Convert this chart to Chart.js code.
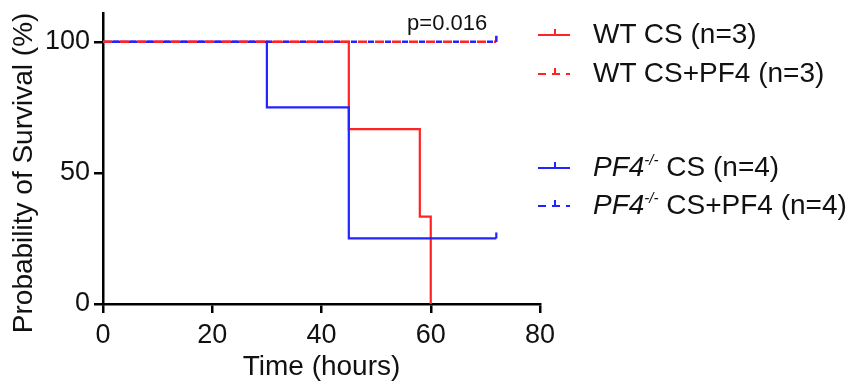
<!DOCTYPE html>
<html>
<head>
<meta charset="utf-8">
<script src="https://cdn.jsdelivr.net/npm/chart.js@4"></script>
<style>
  html, body { margin: 0; padding: 0; background: #fff; }
  #wrap { position: relative; width: 849px; height: 381px; overflow: hidden; }
  #c { position: absolute; left: 0; top: 0; }
  .lg { position: absolute; left: 537px; height: 32px; line-height: 32px; white-space: nowrap;
        font-family: "Liberation Sans", Arial, sans-serif; font-size: 28px; color: #111; }
  .lg svg { position: absolute; left: 0; top: 9px; }
  .lg span.t { position: absolute; left: 56px; top: 0; }
  .lg i sup { font-size: 15px; vertical-align: 0; position: relative; top: -11px; }
</style>
</head>
<body>
<div id="wrap">
  <canvas id="c" width="849" height="381"></canvas>
</div>
<script>
// ---- data ----
const wtCsTime   = [0, 45, 58, 60];
const wtCsSurv   = [100, 66.67, 33.33, 0];
const wtPf4Time  = [0, 72];
const wtPf4Surv  = [100, 100];
const koCsTime   = [0, 30, 45, 72];
const koCsSurv   = [100, 75, 25, 25];
const koPf4Time  = [0, 72];
const koPf4Surv  = [100, 100];
const xTicks = [0, 20, 40, 60, 80];
const yTicks = [0, 50, 100];
const seriesNames = ["WT CS (n=3)", "WT CS+PF4 (n=3)", "PF4-/- CS (n=4)", "PF4-/- CS+PF4 (n=4)"];
const pValueText = "p=0.016";
const xTitle = "Time (hours)";
const yTitle = "Probability of Survival (%)";

const RED = "rgb(255,35,35)";
const BLUE = "rgb(35,35,255)";
const FONT = "'Liberation Sans', Arial, sans-serif";

function pts(t, s) { return t.map((x, i) => ({ x: x, y: s[i] })); }
function censorRadius(censored) {
  return ctx => (censored && ctx.dataIndex === ctx.dataset.data.length - 1) ? 6 : 0;
}

function ds(label, t, s, color, dash, censored, order, dashOffset) {
  return {
    label: label,
    data: pts(t, s),
    borderColor: color,
    backgroundColor: color,
    borderWidth: dash ? 2.5 : 2.2,
    borderDash: dash || [],
    borderDashOffset: dashOffset || 0,
    stepped: 'before',
    fill: false,
    pointStyle: 'dash',
    rotation: -90,
    pointRadius: censorRadius(censored),
    pointHoverRadius: 0,
    pointBorderColor: color,
    pointBorderWidth: 2.2,
    order: order,
    clip: false
  };
}

const labelPlugin = {
  id: 'labels',
  afterDraw(chart) {
    const c = chart.ctx;
    const xs = chart.scales.x, ys = chart.scales.y;
    c.save();
    c.fillStyle = '#111';
    c.font = "28px " + FONT;
    c.textAlign = 'center';
    c.textBaseline = 'middle';
    c.translate(24, ys.getPixelForValue(50));
    c.rotate(-Math.PI / 2);
    c.fillText(yTitle, 0, 0);
    c.restore();
    c.save();
    c.fillStyle = '#111';
    c.font = "22px " + FONT;
    c.textAlign = 'center';
    c.textBaseline = 'alphabetic';
    c.fillText(pValueText, xs.getPixelForValue(63), 30);
    c.restore();
  }
};

function noPad(s) { s.paddingTop = 0; s.paddingBottom = 0; s.paddingLeft = 0; s.paddingRight = 0; }

new Chart(document.getElementById('c'), {
  type: 'line',
  data: {
    datasets: [
      ds(seriesNames[0], wtCsTime, wtCsSurv, RED, null, false, 4),
      ds(seriesNames[2], koCsTime, koCsSurv, BLUE, null, true, 3),
      ds(seriesNames[1], wtPf4Time, wtPf4Surv, RED, [9, 8], true, 2, 0),
      ds(seriesNames[3], koPf4Time, koPf4Surv, BLUE, [6, 11], true, 1, 7)
    ]
  },
  options: {
    responsive: false,
    animation: false,
    devicePixelRatio: 1,
    layout: { padding: { left: 0, top: 13, right: 309, bottom: 0 } },
    plugins: { legend: { display: false }, tooltip: { enabled: false } },
    events: [],
    scales: {
      x: {
        type: 'linear', min: 0, max: 80,
        afterBuildTicks: s => { s.ticks = xTicks.map(v => ({ value: v })); },
        afterFit: s => { s.height = 77; noPad(s); },
        border: { display: true, color: '#000', width: 2.5 },
        grid: { display: true, drawOnChartArea: false, drawTicks: true, tickLength: 9, color: '#000', lineWidth: 2.5 },
        ticks: { color: '#111', font: { family: FONT, size: 27 }, padding: 6, maxRotation: 0 },
        title: { display: true, text: xTitle, color: '#111', font: { family: FONT, size: 28, lineHeight: 1.0 }, padding: { top: 0, bottom: 0 } }
      },
      y: {
        type: 'linear', min: 0, max: 111,
        afterBuildTicks: s => { s.ticks = yTicks.map(v => ({ value: v })); },
        afterFit: s => { s.width = 103; noPad(s); },
        border: { display: true, color: '#000', width: 2.5 },
        grid: { display: true, drawOnChartArea: false, drawTicks: true, tickLength: 9, color: '#000', lineWidth: 2.5 },
        ticks: { color: '#111', font: { family: FONT, size: 27 }, padding: 4 }
      }
    }
  },
  plugins: [labelPlugin]
});

// ---- HTML legend ----
const legendRows = [
  { name: seriesNames[0], color: RED, dashed: false, cy: 34 },
  { name: seriesNames[1], color: RED, dashed: true, cy: 73 },
  { name: seriesNames[2], color: BLUE, dashed: false, cy: 167 },
  { name: seriesNames[3], color: BLUE, dashed: true, cy: 205 }
];
const wrap = document.getElementById('wrap');
legendRows.forEach(r => {
  const d = document.createElement('div');
  d.className = 'lg';
  d.style.top = (r.cy - 16) + 'px';
  const dash = r.dashed ? ' stroke-dasharray="8 6"' : '';
  const svg = '<svg width="34" height="14"><line x1="1" y1="8" x2="33" y2="8" stroke="' + r.color +
    '" stroke-width="2"' + dash + '/><line x1="18" y1="2" x2="18" y2="8" stroke="' + r.color + '" stroke-width="2"/></svg>';
  let txt;
  if (r.name.indexOf('PF4-/-') === 0) {
    txt = '<i>PF4<sup>-/-</sup></i>' + r.name.slice(6);
  } else {
    txt = r.name;
  }
  d.innerHTML = svg + '<span class="t">' + txt + '</span>';
  wrap.appendChild(d);
});
</script>
</body>
</html>
